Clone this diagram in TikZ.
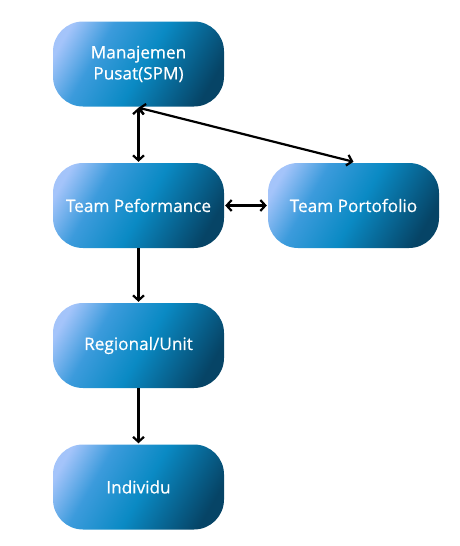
\documentclass[tikz,border=0pt]{standalone}
\usepackage{fontspec}
\newfontfamily\lblfont[FakeBold=0.5]{Open Sans}
\usetikzlibrary{arrows.meta}
\definecolor{gA}{HTML}{A4C4FA}
\definecolor{gM}{HTML}{3C9BDC}
\definecolor{gB}{HTML}{0A8AC4}
\definecolor{gC}{HTML}{064466}
\pgfdeclarehorizontalshading{btn}{100bp}{color(0bp)=(gA); color(22bp)=(gA); color(35bp)=(gM); color(52bp)=(gB); color(76bp)=(gC); color(100bp)=(gC)}
\tikzset{
  box/.style={rounded corners=30pt, minimum width=171pt, minimum height=85pt,
    shading=btn, shading angle=-30, draw=none, text=white, align=center,
    font=\lblfont\fontsize{17.2}{21}\selectfont, inner sep=0pt},
  conn/.style={line width=2.2pt, black},
  tip/.style={-{Straight Barb[length=5pt,width=11pt]}},
  tips/.style={{Straight Barb[length=5pt,width=11pt]}-{Straight Barb[length=5pt,width=11pt]}}
}
\begin{document}
\begin{tikzpicture}[x=1pt,y=-1pt]
\useasboundingbox (0,0) rectangle (459,546);
\node[box] (spm) at (138.5,64) {Manajemen\\Pusat(SPM)};
\node[box] (perf) at (138.5,205.5) {Team Peformance};
\node[box] (port) at (353.5,205.5) {Team Portofolio};
\node[box] (reg) at (138.5,345.5) {Regional/Unit};
\node[box] (ind) at (138.5,487) {Individu};
\draw[conn,tips] ([yshift=-1pt]spm.south) -- ([yshift=1pt]perf.north);
\draw[conn,tips] ([yshift=-1pt]spm.south) -- ([yshift=1pt]port.north);
\draw[conn,tips] ([xshift=1pt]perf.east) -- ([xshift=-1pt]port.west);
\draw[conn,tip] (perf.south) -- ([yshift=1pt]reg.north);
\draw[conn,tip] (reg.south) -- ([yshift=1pt]ind.north);
\end{tikzpicture}
\end{document}
